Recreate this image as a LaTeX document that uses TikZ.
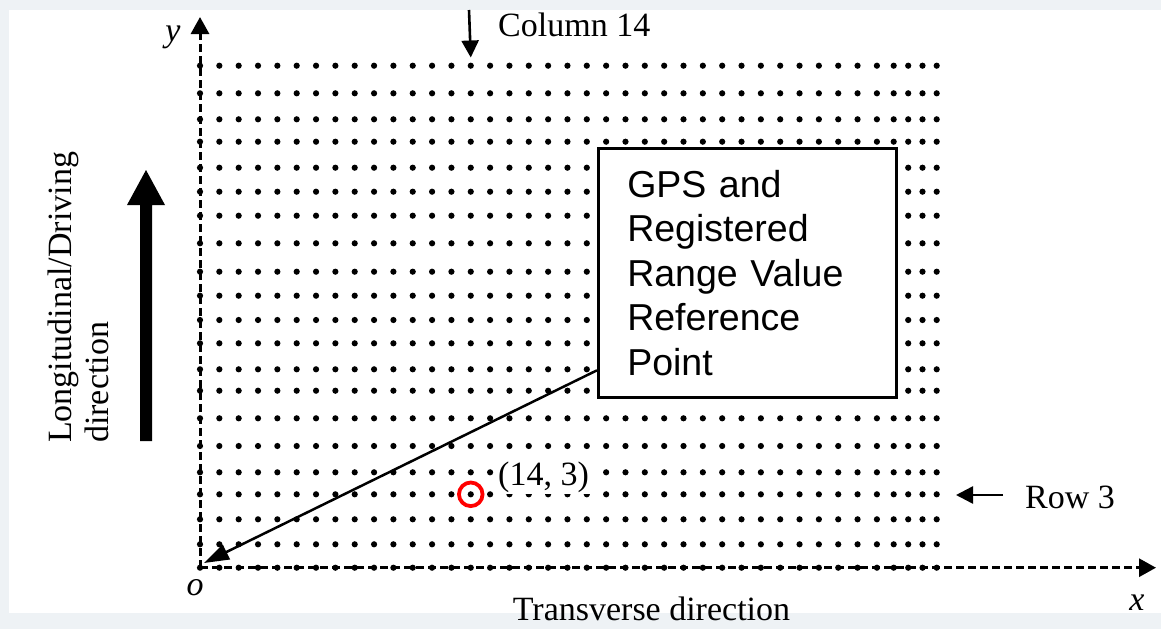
\documentclass[tikz,border=0pt]{standalone}
\usepackage{fontspec}
\setmainfont{Liberation Serif}
\newfontfamily\gpsfont{Liberation Sans}
\usetikzlibrary{arrows.meta}
\definecolor{pagebg}{HTML}{EEF2F5}
\definecolor{markred}{HTML}{FF0000}
\begin{document}
\begin{tikzpicture}[x=1pt,y=-1pt,
  gridpt/.style={fill=black},
  axisline/.style={line width=3pt, dash pattern=on 8pt off 4pt,
    -{Triangle[length=17pt,width=18pt]}},
  pointer/.style={line width=2.6pt, -{Triangle[length=17pt,width=17pt]}},
  leader/.style={line width=2.5pt, -{Triangle[length=25pt,width=16pt]}},
  lbl/.style={font=\fontsize{34}{37}\selectfont, inner sep=0pt},
  axislbl/.style={font=\fontsize{34}{37}\selectfont\itshape, inner sep=0pt, anchor=base},
  gpsbox/.style={draw, fill=white, line width=2.6pt,
    font=\gpsfont\fontsize{37.5}{44.5}\selectfont, align=left,
    text width=240pt, inner xsep=29pt, inner ysep=0pt, minimum height=249pt},
  coordlbl/.style={lbl, fill=white, inner xsep=3pt, inner ysep=0pt,
    text height=24pt, text depth=9pt},
  ringmark/.style={circle, draw=markred, line width=3.8pt, minimum size=23.6pt, inner sep=0pt}
]
% canvas and panel
\useasboundingbox (0,0) rectangle (1161,629);
\fill[pagebg] (0,0) rectangle (1161,629);
\fill[white] (9,10) rectangle (1161,613);

% grid of measurement points: columns 0..39, rows 0..20
\foreach \r/\yy in {0/567.7,1/544.3,2/519.3,3/494.3,4/472.3,5/446,6/418.3,7/390.7,
    8/369.3,9/343.3,10/320,11/295.7,12/271.7,13/243.3,14/215.7,15/191.7,
    16/167.7,17/141.7,18/119.3,19/93.3,20/65.7}{
  \foreach \c in {0,...,35}{
    \pgfmathsetmacro{\xx}{200+19.34*\c}
    \coordinate (d-\c-\r) at (\xx,\yy);
    \fill[gridpt] (d-\c-\r) circle[radius=3.1pt];
  }
  \foreach \c/\xx in {36/893.7,37/908.2,38/922.5,39/936.7}{
    \coordinate (d-\c-\r) at (\xx,\yy);
    \fill[gridpt] (d-\c-\r) circle[radius=3.1pt];
  }
}

% axes
\coordinate (o) at (200,567.7);
\coordinate (ytip) at (200,17);
\coordinate (xtip) at (1156,567.7);
\draw[axisline] (o) -- (ytip);
\draw[axisline] (o) -- (xtip);

\node[axislbl] (ylab) at (173,41) {y};
\node[axislbl] (olab) at (195,595) {o};
\node[axislbl] (xlab) at (1137,610) {x};
\node[lbl, anchor=base] (tlab) at (651.5,620) {Transverse direction};

% driving direction
\fill (140,441) -- (140,205) -- (127,205) -- (146,170) -- (165,205)
  -- (152,205) -- (152,441) -- cycle;
\node[lbl, rotate=90, anchor=north west, align=left] (longlab) at (48,443)
  {Longitudinal/Driving\\direction};

% column and row markers
\node[lbl, anchor=base west] (col14) at (498,36) {Column 14};
\coordinate (coltail) at (469,10);
\draw[pointer] (coltail) -- ([yshift=8.2pt]d-14-20);

\node[lbl, anchor=base west] (row3) at (1025,508) {Row 3};
\coordinate (rowtail) at (1003,495);
\draw[pointer] (rowtail) -- ([xshift=19.3pt,yshift=-0.7pt]d-39-3);

% selected point
\node[ringmark] (mark) at (d-14-3) {};
\node[coordlbl, anchor=south west] (ptlab) at (495,494.6) {(14, 3)};

% reference point box and leader
\node[gpsbox, anchor=north west] (gps) at (597,147)
  {GPS and\\Registered\\Range Value\\Reference\\Point};
\coordinate (oref) at (204,563);
\draw[leader] ([yshift=-97.5pt]gps.west) -- (oref);
\end{tikzpicture}
\end{document}
